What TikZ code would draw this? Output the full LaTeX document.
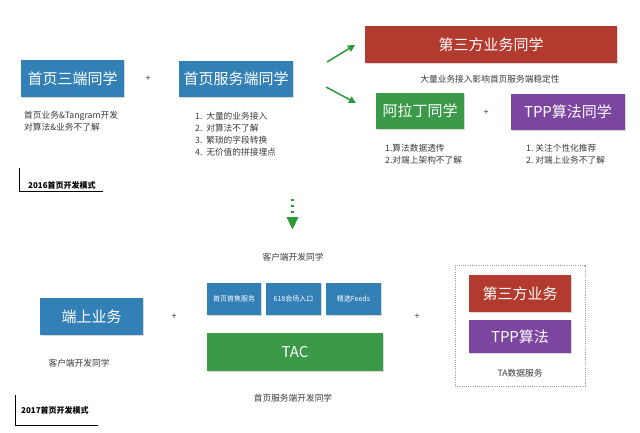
\documentclass[tikz,border=0pt]{standalone}
\usepackage{fontspec}
\setmainfont{Noto Sans CJK SC}
\usetikzlibrary{shadows,arrows.meta}
\definecolor{cblue}{HTML}{3380B7}
\definecolor{cred}{HTML}{B33A2E}
\definecolor{cgreen}{HTML}{3A9A48}
\definecolor{cpurple}{HTML}{7B45A0}
\definecolor{ctext}{HTML}{3A3A3A}
\definecolor{carrow}{HTML}{2E9A3A}
\tikzset{
  boxbase/.style={draw=none, text=white, inner sep=0pt, font=\fontsize{15}{18}\selectfont,
    drop shadow={opacity=0.3, shadow xshift=0.6pt, shadow yshift=-1pt}},
  bluebox/.style={boxbase, fill=cblue},
  redbox/.style={boxbase, fill=cred},
  greenbox/.style={boxbase, fill=cgreen},
  purplebox/.style={boxbase, fill=cpurple},
  smallbox/.style={boxbase, fill=cblue, font=\fontsize{7}{9}\selectfont},
  note/.style={text=ctext, inner sep=0pt, font=\fontsize{8.7}{12}\selectfont, align=left},
  plus/.style={text=ctext, inner sep=0pt, font=\fontsize{9}{10}\selectfont},
  caption/.style={text=black, inner sep=0pt, font=\fontsize{8}{10}\selectfont\bfseries},
  greenarrow/.style={draw=carrow, line width=1.5pt, -{Triangle[length=7pt,width=7pt]}},
}
\begin{document}
\begin{tikzpicture}[x=1pt,y=-1pt]
\useasboundingbox[fill=white] (0,0) rectangle (640,433);

% ---- 2016 ----
\node[bluebox, minimum width=103pt, minimum height=37pt] (san) at (72.5,78.5) {首页三端同学};
\node[plus] (p1) at (148,79) {+};
\node[bluebox, minimum width=114pt, minimum height=36pt] (fuwu) at (236,79) {首页服务端同学};
\node[note, anchor=west] (sannote) at (24,121.5) {首页业务\&Tangram开发\\对算法\&业务不了解};
\node[note, anchor=west] (fuwunote) at (195,134) {1.\ \ 大量的业务接入\\2.\ \ 对算法不了解\\3.\ \ 繁琐的字段转换\\4.\ \ 无价值的拼接埋点};

\node[redbox, minimum width=252pt, minimum height=37pt] (disan) at (491,44.5) {第三方业务同学};
\node[note, anchor=center] (disannote) at (490,79) {大量业务接入影响首页服务端稳定性};
\node[greenbox, minimum width=88pt, minimum height=36pt] (ala) at (420,111) {阿拉丁同学};
\node[plus] (p2) at (486,113) {+};
\node[purplebox, minimum width=114pt, minimum height=36pt] (tpp) at (568,112) {TPP算法同学};
\node[note, anchor=west] (alanote) at (385,154) {1.算法数据透传\\2.对端上架构不了解};
\node[note, anchor=west] (tppnote) at (526,154) {1.\ 关注个性化推荐\\2.\ 对端上业务不了解};

\coordinate (a1s) at (327,62);
\coordinate (a1e) at (355,45);
\coordinate (a2s) at (326,87);
\coordinate (a2e) at (356,103);
\draw[greenarrow] (a1s) -- (a1e);
\draw[greenarrow] (a2s) -- (a2e);

\node[caption, anchor=west] (c2016) at (28,185) {2016首页开发模式};
\draw[line width=1pt] (19,168) -- (19,191) -- (103,191);

% ---- transition arrow ----
\coordinate (d1) at (292.5,199);
\coordinate (d2) at (292.5,216);
\draw[draw=carrow, line width=2.4pt, dash pattern=on 2.4pt off 3.6pt] (d1) -- (d2);
\fill[carrow] (286.5,217) -- (298.5,217) -- (292.5,229.5) -- cycle;

% ---- 2017 ----
\node[bluebox, minimum width=103pt, minimum height=37pt] (duan) at (91.5,316.5) {端上业务};
\node[note, anchor=center] (duannote) at (79,363) {客户端开发同学};
\node[plus] (p3) at (174,317) {+};

\node[note, anchor=center] (kehu) at (293,257) {客户端开发同学};
\node[smallbox, minimum width=54pt, minimum height=32pt] (s1) at (234,299) {首页首焦服务};
\node[smallbox, minimum width=55pt, minimum height=32pt] (s2) at (293.5,299) {618会场入口};
\node[smallbox, minimum width=55pt, minimum height=32pt] (s3) at (353.5,299) {精选Feeds};
\node[greenbox, minimum width=176pt, minimum height=38pt] (tac) at (295,352) {TAC};
\node[note, anchor=center] (fwnote) at (293,398) {首页服务端开发同学};

\node[plus] (p4) at (417,317) {+};

\draw[draw=gray!80, line width=0.6pt, dash pattern=on 1pt off 1.2pt] (455,265) rectangle (585,386);
\node[redbox, minimum width=102pt, minimum height=37pt] (disan2) at (520,293.5) {第三方业务};
\node[purplebox, minimum width=102pt, minimum height=33pt] (tpp2) at (520,336.5) {TPP算法};
\node[note, anchor=center] (tanote) at (520,373) {TA数据服务};

\node[caption, anchor=west] (c2017) at (21,410) {2017首页开发模式};
\draw[line width=1pt] (15,395) -- (15,425) -- (98,425);
\end{tikzpicture}
\end{document}
